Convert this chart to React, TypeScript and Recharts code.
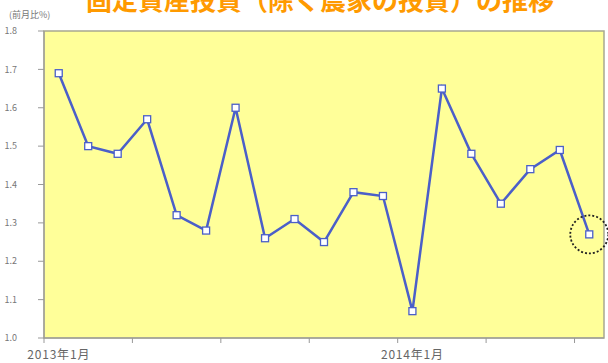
import React from "react"
import { LineChart, Line, XAxis, YAxis, ReferenceArea, ReferenceDot } from "recharts"

const FONT = '"Noto Sans CJK JP", "Noto Sans", sans-serif'

// 2013年1月 〜 2014年7月, 前月比 (%)
const months = [
  "2013年1月", "2013年2月", "2013年3月", "2013年4月", "2013年5月", "2013年6月",
  "2013年7月", "2013年8月", "2013年9月", "2013年10月", "2013年11月", "2013年12月",
  "2014年1月", "2014年2月", "2014年3月", "2014年4月", "2014年5月", "2014年6月", "2014年7月",
]
const momChange = [
  1.69, 1.5, 1.48, 1.57, 1.32, 1.28, 1.6, 1.26, 1.31, 1.25,
  1.38, 1.37, 1.07, 1.65, 1.48, 1.35, 1.44, 1.49, 1.27,
]
const yTicks = [1.0, 1.1, 1.2, 1.3, 1.4, 1.5, 1.6, 1.7, 1.8]
// month indices that carry a label on the x axis
const labelledMonths = [0, 12]
// quarter boundaries get a tick mark
const quarterEdges = [-0.5, 2.5, 5.5, 8.5, 11.5, 14.5, 17.5]

const data = months.map((m, i) => ({ idx: i, month: m, value: momChange[i] }))
const lastIdx = momChange.length - 1

const SquareDot = (props: any) => {
  const { cx, cy } = props
  if (cx == null || cy == null) return null
  return <rect x={cx - 3.5} y={cy - 3.5} width={7} height={7} fill="#ffffff" stroke="#4b5fc9" strokeWidth={1.3} />
}

const XTick = (props: any) => {
  const { x, y, payload } = props
  const v = payload.value
  if (Number.isInteger(v)) {
    return (
      <text x={x} y={y + 21} textAnchor="middle" fontSize={12} fill="#666" fontFamily={FONT} letterSpacing={0.8}>
        {months[v]}
      </text>
    )
  }
  return <line x1={x} y1={y} x2={x} y2={y + 5} stroke="#999" strokeWidth={1} />
}

export default function App() {
  return (
    <div style={{ position: "absolute", left: 0, top: 0, width: 608, height: 363, background: "#fff", overflow: "hidden" }}>
      <LineChart width={608} height={363} data={data} margin={{ top: 31, right: 4, left: 0, bottom: 0 }}>
        <XAxis
          dataKey="idx"
          type="number"
          domain={[-0.5, 18.5]}
          ticks={[...quarterEdges, ...labelledMonths].sort((a, b) => a - b)}
          interval={0}
          height={25}
          tickSize={0}
          tickMargin={0}
          tickLine={false}
          axisLine={{ stroke: "#999" }}
          tick={<XTick />}
        />
        <YAxis
          type="number"
          domain={[1.0, 1.8]}
          ticks={yTicks}
          interval={0}
          width={44}
          tickSize={6}
          tickMargin={21}
          tickFormatter={(v: number) => v.toFixed(1)}
          tick={{ fontSize: 9, fill: "#777", fontFamily: FONT }}
          tickLine={{ stroke: "#999" }}
          axisLine={{ stroke: "#999" }}
        />
        <ReferenceArea x1={-0.5} x2={18.5} y1={1.0} y2={1.8} fill="#ffff99" fillOpacity={1} stroke="#a8a890" strokeWidth={1.5} />
        <Line
          dataKey="value"
          stroke="#4b5fc9"
          strokeWidth={2.5}
          dot={<SquareDot />}
          activeDot={false}
          isAnimationActive={false}
        />
        <ReferenceDot
          x={lastIdx}
          y={momChange[lastIdx]}
          r={19}
          fill="none"
          stroke="#222"
          strokeWidth={1.8}
          strokeDasharray="2 2"
        />
      </LineChart>
      <div
        style={{
          position: "absolute", left: 0, top: -20, width: 640, textAlign: "center",
          fontFamily: FONT, fontWeight: 700, fontSize: 26, color: "#ff9a00", whiteSpace: "nowrap",
        }}
      >
        固定資産投資（除く農家の投資）の推移
      </div>
      <div style={{ position: "absolute", left: 9, top: 8, fontFamily: FONT, fontSize: 9, color: "#777" }}>
        (前月比%)
      </div>
    </div>
  )
}
